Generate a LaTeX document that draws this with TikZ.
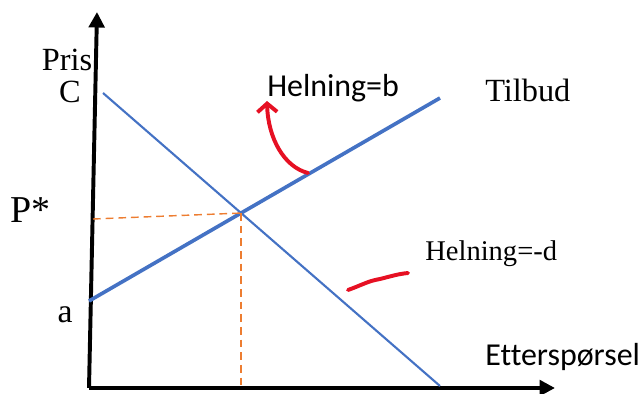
\documentclass[tikz,border=0pt]{standalone}
\usepackage{fontspec}
\setmainfont{Liberation Serif}
\newfontfamily\calibri[Ligatures=NoCommon]{Carlito}
\usepackage{xcolor}
\usepackage{tikz}
\usetikzlibrary{arrows.meta}

\definecolor{lineblue}{RGB}{68,114,196}
\definecolor{dashorange}{RGB}{237,125,49}
\definecolor{penred}{RGB}{230,16,35}

\begin{document}
\begin{tikzpicture}[
    x=0.025cm, y=-0.025cm,
    axis/.style={line width=2.8pt, -{Triangle[width=11pt,length=11pt]}},
    curve/.style={draw=lineblue, line width=1.5pt},
    guide/.style={draw=dashorange, line width=1pt, dash pattern=on 5.5pt off 3.5pt},
    pen/.style={draw=penred, line width=2.8pt, line cap=round, line join=round},
    lbl/.style={inner sep=0pt, font=\fontsize{23}{27}\selectfont},
    slbl/.style={inner sep=0pt, font=\calibri\fontsize{22.7}{27}\selectfont}
]
\useasboundingbox (0,0) rectangle (640,394);

\coordinate (origin) at (89,388);
\coordinate (ytop) at (97,12);
\coordinate (xend) at (555,388);
\coordinate (supA) at (89,301);
\coordinate (supB) at (440,98);
\coordinate (demC) at (103,93);
\coordinate (demD) at (440,386);
\coordinate (eq) at (intersection of supA--supB and demC--demD);
\coordinate (pstar) at (93,219);

% axes
\draw[axis] (origin) -- (ytop);
\draw[axis] (origin) -- (xend);

% supply and demand
\draw[curve, line width=2.6pt] (supA) -- (supB);
\draw[curve] (demC) -- (demD);

\draw[guide] (pstar) -- (eq);
\draw[guide] (eq) -- (eq |- origin);

\node[lbl, anchor=base] (pris) at (67,71) {Pris};
\node[lbl, anchor=base] (cval) at (70,103) {C};
\node[lbl, anchor=base west, font=\fontsize{27}{31}\selectfont] (plbl) at (10,223) {P*};
\node[lbl, anchor=base, font=\fontsize{24}{28}\selectfont] (alab) at (65,322) {a};
\node[lbl, anchor=base west] (tilbud) at (485,102) {Tilbud};
\node[lbl, anchor=base west, font=\fontsize{20.3}{24}\selectfont] (helnd) at (425,260) {Helning=-d};
\node[slbl, anchor=base west] (helnb) at (267,97) {Helning=b};
\node[slbl, anchor=base west] (ettersp) at (485,365) {Etterspørsel};

% red pen marks
\coordinate (penA) at (308,173);
\coordinate (penB) at (267,101);
\draw[pen, -{Straight Barb[length=6pt,width=14pt]}] (penA) .. controls (284,167) and (268,138) .. (penB);
\coordinate (sqA) at (348,290);
\coordinate (sqB) at (408,273);
\draw[pen] (sqA) .. controls (362,285) and (368,281) .. (380,279) .. controls (392,276) and (398,274) .. (sqB);
\end{tikzpicture}
\end{document}
